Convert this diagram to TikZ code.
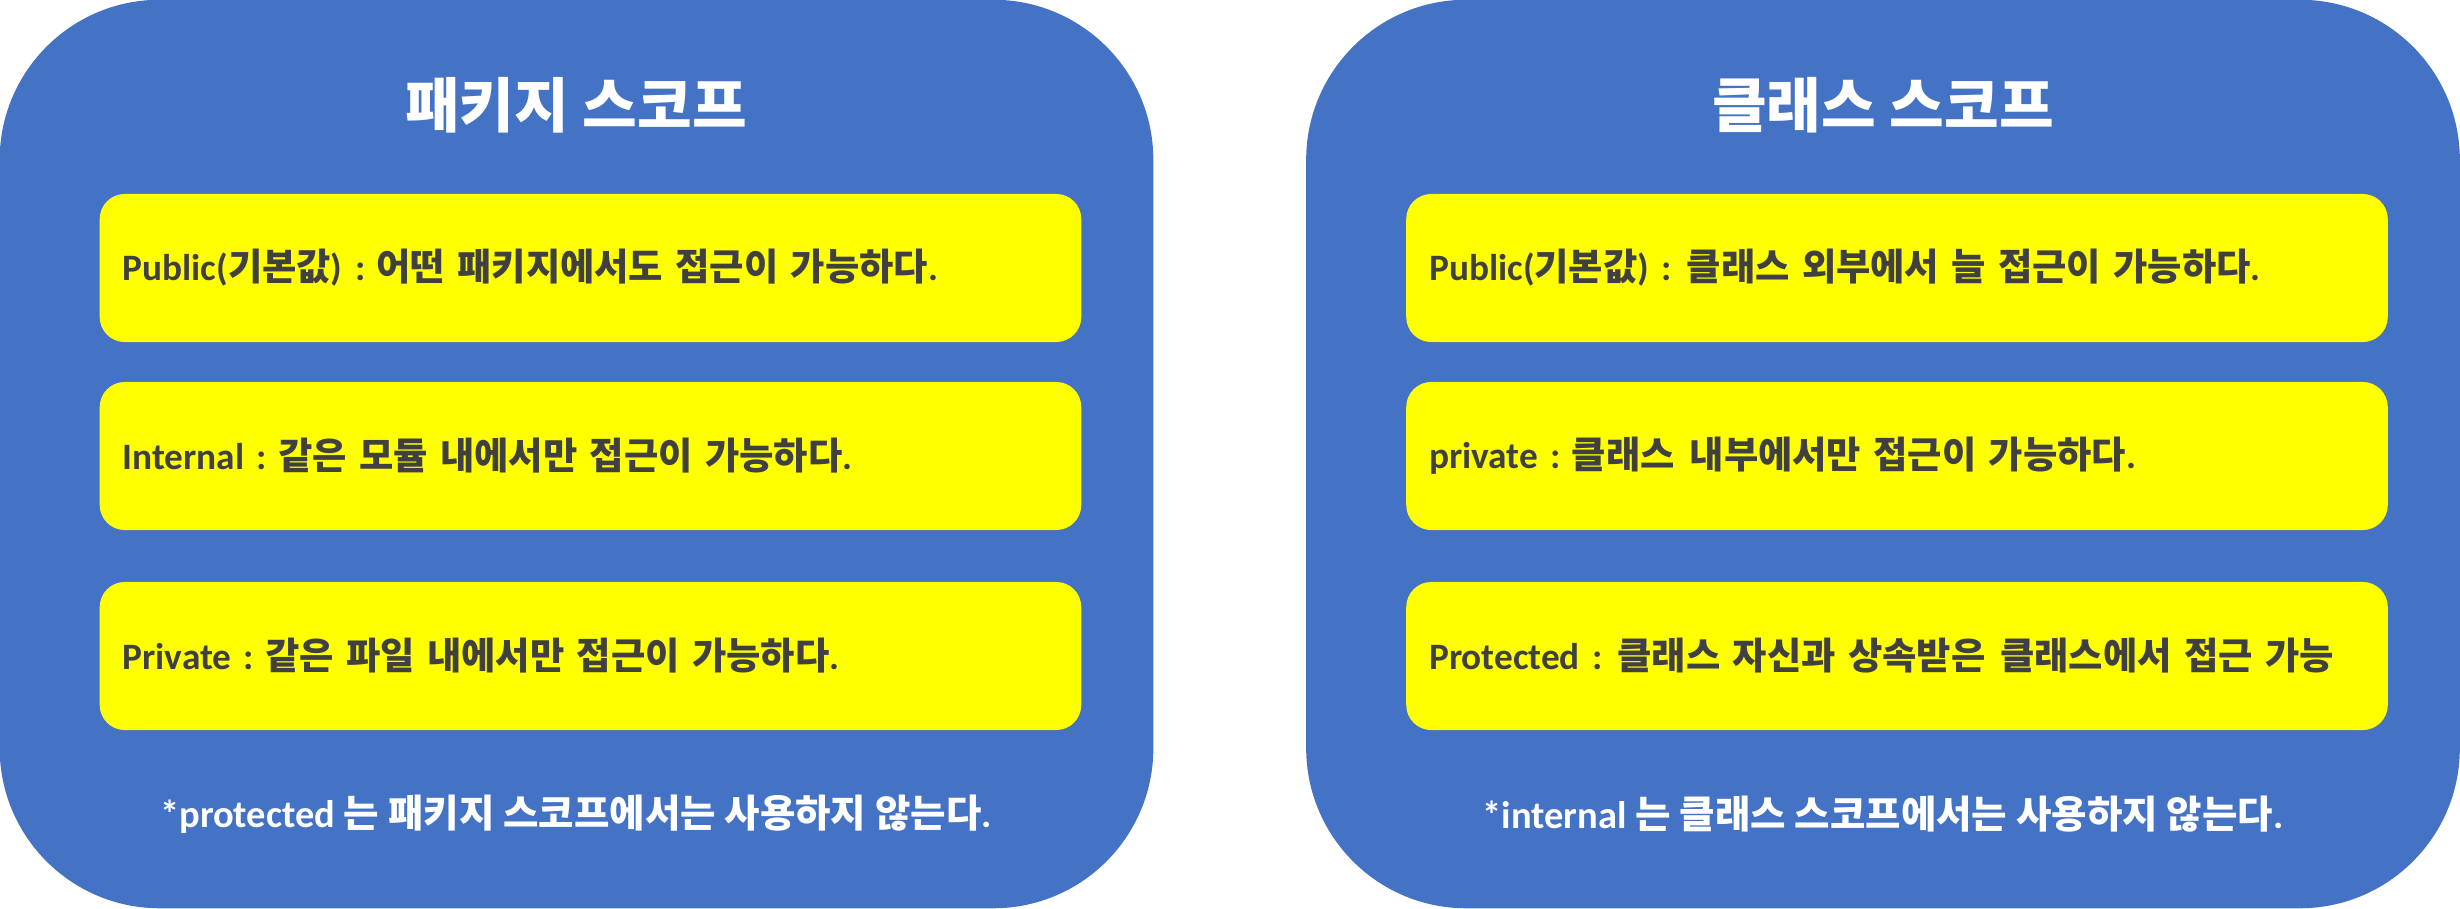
\documentclass[tikz,border=0pt]{standalone}
\usepackage{fontspec}
\setmainfont{Carlito}
\newfontfamily\kr{Noto Sans CJK KR}
\newcommand\K[1]{{\kr #1}}
\newcommand\ssp{\kern0.3em}
\newcommand\dsp{\kern0.4em}
\definecolor{pblue}{HTML}{4472C4}
\definecolor{ptext}{HTML}{404040}
\definecolor{pyellow}{HTML}{FFFF00}
\tikzset{
  panel/.style={fill=pblue, draw=none, rounded corners=1.6cm, minimum width=11.53cm, minimum height=9.08cm, inner sep=0pt},
  ybox/.style={fill=pyellow, draw=none, rounded corners=0.25cm, minimum height=1.48cm, inner xsep=0.23cm, inner ysep=0pt, text width=9.35cm, align=left, text=ptext, font=\fontsize{10.6}{12}\selectfont\bfseries},
  title/.style={text=white, font=\fontsize{16.9}{19}\selectfont\bfseries, inner sep=0pt},
  foot/.style={text=white, font=\fontsize{10.95}{12}\selectfont\bfseries, inner sep=0pt}
}
\begin{document}
\begin{tikzpicture}[x=0.01cm,y=-0.01cm]
\useasboundingbox (0,0) rectangle (2460,908);
% panels
\node[panel] (lp) at (576.5,454) {};
\node[panel] (rp) at (1883,454) {};
% titles
\node[title] (lt) at (576,105) {\K{패키지 스코프}};
\node[title] (rt) at (1883,105) {\K{클래스 스코프}};
% left boxes
\node[ybox] (l1) at (590.5,268) {Public(\K{기본값}) :\ssp\K{어떤 패키지에서도 접근이 가능하다}.};
\node[ybox] (l2) at (590.5,456) {Internal :\ssp\K{같은 모듈 내에서만 접근이 가능하다}.};
\node[ybox] (l3) at (590.5,656) {Private :\ssp\K{같은 파일 내에서만 접근이 가능하다}.};
% right boxes
\node[ybox] (r1) at (1897,268) {Public(\K{기본값}) :\dsp\K{클래스 외부에서 늘 접근이 가능하다}.};
\node[ybox] (r2) at (1897,456) {private :\ssp\K{클래스\dsp 내부에서만 접근이 가능하다}.};
\node[ybox] (r3) at (1897,656) {Protected :\dsp\K{클래스 자신과 상속받은\dsp 클래스에서 접근 가능}};
% footers
\node[foot] (lf) at (576,814) {*protected \K{는 패키지 스코프에서는 사용하지 않는다}.};
\node[foot] (rf) at (1883,814) {*internal \K{는 클래스 스코프에서는 사용하지 않는다}.};
\end{tikzpicture}
\end{document}
